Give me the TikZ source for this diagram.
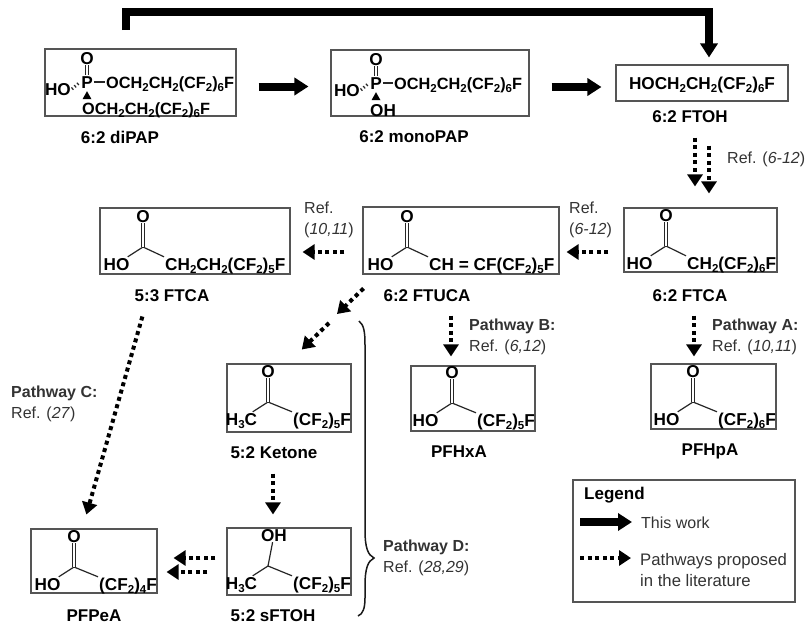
\documentclass[tikz,border=0pt]{standalone}
\usepackage{fontspec}
\setmainfont{Liberation Sans}
\usetikzlibrary{arrows.meta}
\definecolor{boxline}{HTML}{555555}
\definecolor{labtext}{HTML}{333333}
\newcommand{\low}[1]{\raisebox{-3pt}{\fontsize{11.5}{11.5}\selectfont #1}}
\newcommand{\fragment}[8][0pt]{
  \coordinate (#2c) at (#3,#4);
  \node[chem, xshift=#1] (#2o) at (#3,#4-31) {#5};
  \node[chem] (#2l) at (#3-26.5,#4+17) {#6};
  \node[chem, anchor=west] (#2r) at (#3+#7,#4+17) {#8};
  \draw[bond] (#2c) -- (#2l);
  \draw[bond] (#2c) -- (#2r.north west);
}
\newcommand{\papcore}[3]{
  \node[chem] (#1o) at (#2,#3-24) {O};
  \node[chem] (#1p) at (#2,#3) {P};
  \node[chem, anchor=east] (#1h) at (#2-15,#3+7) {HO};
  \draw[dbl] (#1p) -- (#1o);
  \draw[hash] (#1h.east) -- (#1p.west);
  \fill (#1p.south) ++(0,2) -- ++(-4.5,8) -- ++(9,0) -- cycle;
}
\begin{document}
\begin{tikzpicture}[x=1pt, y=-1pt,
  every node/.append style={font=\fontsize{16}{21}\selectfont, inner sep=1pt},
  box/.style={draw=boxline, line width=1.1pt, fill=white, inner sep=0pt},
  chem/.style={font=\fontsize{17.2}{20}\selectfont\bfseries, text height=12pt, text depth=0pt, inner sep=1pt},
  pap/.style={chem, font=\fontsize{16.3}{20}\selectfont\bfseries},
  capt/.style={font=\fontsize{17}{20}\selectfont\bfseries},
  lab/.style={text=labtext, align=left, anchor=west},
  bond/.style={line width=1.2pt, black!85},
  dbl/.style={line width=1pt, black!85, double, double distance=2pt},
  hash/.style={line width=3pt, black!85, dash pattern=on 1.2pt off 2.4pt},
  thick arr/.style={line width=8pt, -{Triangle[length=14pt, width=17pt]}},
  dot arr/.style={line width=4pt, dash pattern=on 4pt off 3.6pt, -{Triangle[length=12pt, width=15pt]}}]
\useasboundingbox (0,0) rectangle (806,629);
\node[box, minimum width=191pt, minimum height=67pt] (dipap) at (140.5,82.5) {};
\node[box, minimum width=198pt, minimum height=66pt] (mono) at (430,83) {};
\node[box, minimum width=172pt, minimum height=36pt] (ftoh) at (702,83) {};
\node[box, minimum width=190pt, minimum height=66pt] (fca) at (195,241) {};
\node[box, minimum width=196pt, minimum height=67pt] (fuca) at (461,240.5) {};
\node[box, minimum width=153pt, minimum height=64pt] (ftca) at (700.5,240) {};
\node[box, minimum width=124pt, minimum height=65pt] (hxa) at (473,398.5) {};
\node[box, minimum width=125pt, minimum height=65pt] (hpa) at (713.5,396.5) {};
\node[box, minimum width=124pt, minimum height=68pt] (ket) at (289,398) {};
\node[box, minimum width=124pt, minimum height=67pt] (sft) at (289,561.5) {};
\node[box, minimum width=126pt, minimum height=64pt] (pea) at (94,561) {};
\node[box, minimum width=222pt, minimum height=122pt] (leg) at (684,541) {};
\papcore{dp}{87}{82}
\node[pap, anchor=west] (dpa) at (105,82) {OCH\low{2}CH\low{2}(CF\low{2})\low{6}F};
\node[pap, anchor=west] (dpb) at (81,108) {OCH\low{2}CH\low{2}(CF\low{2})\low{6}F};
\draw[bond] (dpp) -- (dpa);
\papcore{mp}{376}{83}
\node[pap, anchor=west] (mpa) at (393,83) {OCH\low{2}CH\low{2}(CF\low{2})\low{6}F};
\node[chem, anchor=west] (mpb) at (369,110) {OH};
\draw[bond] (mpp) -- (mpa);
\node[chem] (foh) at (ftoh.center) {HOCH\low{2}CH\low{2}(CF\low{2})\low{6}F};
\fragment{fa}{143}{247}{O}{HO}{21}{CH\low{2}CH\low{2}(CF\low{2})\low{5}F}
\fragment{fu}{407}{247}{O}{HO}{21}{CH = CF(CF\low{2})\low{5}F}
\fragment{tc}{666}{246}{O}{HO}{20}{CH\low{2}(CF\low{2})\low{6}F}
\fragment{hx}{452}{403}{O}{HO}{24}{(CF\low{2})\low{5}F}
\fragment{hp}{693}{402}{O}{HO}{24}{(CF\low{2})\low{6}F}
\fragment{ke}{268}{402}{O}{H\low{3}C}{24}{(CF\low{2})\low{5}F}
\fragment[6pt]{sf}{268}{566}{OH}{H\low{3}C}{24}{(CF\low{2})\low{5}F}
\fragment{pe}{74}{567}{O}{HO}{24}{(CF\low{2})\low{4}F}
\foreach \n in {fa, fu, tc, hx, hp, ke, pe} \draw[dbl] (\n c) -- (\n o);
\draw[bond] (sfc) -- (sfo);
\node[capt] (c1) at (120,137) {6:2 diPAP};
\node[capt] (c2) at (414,137) {6:2 monoPAP};
\node[capt] (c3) at (690,117) {6:2 FTOH};
\node[capt] (c4) at (172,296) {5:3 FTCA};
\node[capt] (c5) at (427,296) {6:2 FTUCA};
\node[capt] (c6) at (690,296) {6:2 FTCA};
\node[capt] (c7) at (459,452) {PFHxA};
\node[capt] (c8) at (710,451) {PFHpA};
\node[capt] (c9) at (274,453) {5:2 Ketone};
\node[capt] (c10) at (273,616) {5:2 sFTOH};
\node[capt] (c11) at (94,616) {PFPeA};
\node[lab] (r1) at (726,159) {Ref. (\textit{6-12})};
\node[lab] (r2) at (303,220) {Ref.\\(\textit{10,11})};
\node[lab] (r3) at (568,220) {Ref.\\(\textit{6-12})};
\node[lab] (pb) at (468,336.5) {\textbf{Pathway B:}\\Ref. (\textit{6,12})};
\node[lab] (pa) at (711,336.5) {\textbf{Pathway A:}\\Ref. (\textit{10,11})};
\node[lab] (pc) at (10,403.5) {\textbf{Pathway C:}\\Ref. (\textit{27})};
\node[lab] (pd) at (382,558) {\textbf{Pathway D:}\\Ref. (\textit{28,29})};
\coordinate (topa) at (126,30);
\coordinate (topb) at (709,12);
\draw[thick arr, shorten <=22pt, shorten >=22pt] ([yshift=-4pt]dipap.east) -- ([yshift=-4pt]dipap.east -| mono.west);
\draw[thick arr, shorten <=22pt, shorten >=14pt] ([yshift=-4pt]mono.east) -- ([yshift=-4pt]mono.east -| ftoh.west);
\draw[thick arr, shorten >=7pt] (topa) -- (topa |- topb) -- (topb) -- (topb |- ftoh.north);
\draw[dot arr, shorten <=36pt, shorten >=21pt] ([xshift=-7pt]ftoh.south) -- ([xshift=-7pt]ftoh.south |- ftca.north);
\draw[dot arr, shorten <=44pt, shorten >=14pt] ([xshift=7pt]ftoh.south) -- ([xshift=7pt]ftoh.south |- ftca.north);
\draw[dot arr, shorten <=15pt, shorten >=7pt] ([yshift=-12pt]ftca.west) -- ([yshift=-12pt]ftca.west -| fuca.east);
\draw[dot arr, shorten <=18pt, shorten >=12pt] ([yshift=-11.5pt]fuca.west) -- ([yshift=-11.5pt]fuca.west -| fca.east);
\draw[dot arr, shorten <=43pt, shorten >=7pt] ([xshift=-6.5pt]ftca.south) -- ([xshift=-6.5pt]ftca.south |- hpa.north);
\draw[dot arr, shorten <=41pt, shorten >=9pt] ([xshift=-10pt]fuca.south) -- ([xshift=-10pt]fuca.south |- hxa.north);
\coordinate (diaga) at (337,314);
\coordinate (diagb) at (329,323);
\draw[dot arr, shorten <=20pt] ([xshift=15.5pt]fuca.south west) -- (diaga);
\draw[dot arr, shorten >=20pt] (diagb) -- ([xshift=61pt]ket.north west);
\draw[dot arr, shorten <=43.6pt, shorten >=14.5pt] ([xshift=54.8pt]fca.south west) -- ([xshift=52pt]pea.north west);
\draw[dot arr, shorten <=41pt, shorten >=13pt] ([xshift=-16pt]ket.south) -- ([xshift=-16pt]ket.south |- sft.north);
\draw[dot arr, shorten <=11pt, shorten >=16pt] ([yshift=3.5pt]sft.west) -- ([yshift=3.5pt]sft.west -| pea.east);
\draw[dot arr, shorten <=19pt, shorten >=9pt] ([yshift=-10.5pt]sft.west) -- ([yshift=-10.5pt]sft.west -| pea.east);
\draw[line width=1.5pt, black!90] (359,321) .. controls (364,325) and (365,332) .. (365,345) -- (365,530) .. controls (365,548) and (368,555) .. (374,558) .. controls (368,561) and (365,568) .. (365,586) -- (365,598) .. controls (365,608) and (363,614) .. (358,616);
\node[capt, anchor=west] (lt) at (583,495) {Legend};
\node[lab] (lw) at (640,523) {This work};
\node[lab, font=\fontsize{16.7}{21}\selectfont] (lp) at (639,570) {Pathways proposed\\in the literature};
\coordinate (lsa) at (580,522);
\coordinate (lsb) at (580,558);
\draw[thick arr, shorten >=8pt] (lsa) -- (lsa -| lw.west);
\draw[dot arr, shorten >=8pt] (lsb) -- (lsb -| lp.west);
\end{tikzpicture}
\end{document}
